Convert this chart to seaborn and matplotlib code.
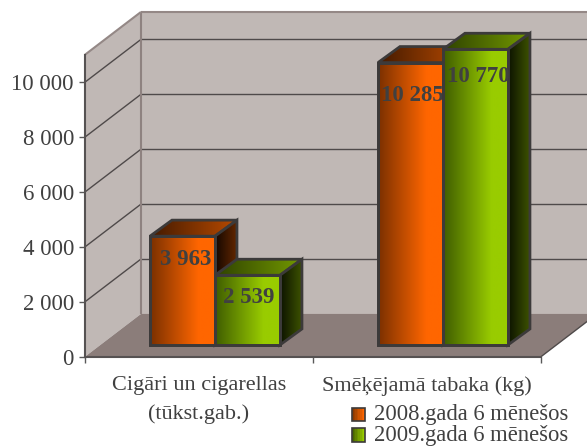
import numpy as np
import pandas as pd
import matplotlib
matplotlib.use('Agg')
import matplotlib.pyplot as plt
import seaborn as sns
from matplotlib.colors import LinearSegmentedColormap
from matplotlib.legend_handler import HandlerBase
from matplotlib.patches import Patch, Polygon, Rectangle

categories = ['Cigāri un cigarellas\n(tūkst.gab.)', 'Smēķējamā tabaka (kg)']
series_names = ['2008.gada 6 mēnešos', '2009.gada 6 mēnešos']
values_2008 = [3963, 10285]
values_2009 = [2539, 10770]
labels_2008 = ['3 963', '10 285']
labels_2009 = ['2 539', '10 770']
y_ticks = [0, 2000, 4000, 6000, 8000, 10000]
y_tick_labels = ['0', '2 000', '4 000', '6 000', '8 000', '10 000']

TEXT = '#404040'
WALL = '#c0b8b5'
FLOOR = '#8b7d7a'
EDGE = '#3c3a3a'

# 3d depth of the box and of the bars, in data units
WALL_DX, WALL_DY = 0.2456, 1558
BAR_SHIFT_X, BAR_SHIFT_Y = 0.07, 427
BAR_DX, BAR_DY = 0.0965, 584

styles = {
    0: dict(front=[(0, '#7a3000'), (0.75, '#ff6600'), (1, '#ff6600')], top=['#431a00', '#b84a00'], side=['#140700', '#662800'], swatch=['#8a3a00', '#ff6600']),
    1: dict(front=[(0, '#3f5c00'), (0.75, '#99cc00'), (1, '#99cc00')], top=['#2f4200', '#739900'], side=['#0c1200', '#3f5500'], swatch=['#4a6600', '#99cc00']),
}

sns.set_theme(style='white')
plt.rcParams['font.family'] = ['Liberation Serif', 'DejaVu Serif']

df = pd.DataFrame({
    'cat': categories * 2,
    'year': [series_names[0]] * 2 + [series_names[1]] * 2,
    'value': values_2008 + values_2009,
})

fig = plt.figure(figsize=(5.87, 4.46), dpi=100, facecolor='white')
ax = fig.add_axes([85 / 587, (446 - 356.7) / 446, 456 / 587, 302 / 446])
ax.patch.set_visible(False)

sns.barplot(data=df, x='cat', y='value', hue='year', width=0.57, gap=0, legend=False, ax=ax, zorder=5)

xlim = (-0.5, 1.5)
ylim = (0, 11000)


def poly(pts, color, z=1, edge='none', lw=0):
    ax.add_patch(Polygon(pts, closed=True, facecolor=color, edgecolor=edge, linewidth=lw, clip_on=False, zorder=z))


def line(xs, ys, color, lw, z=2):
    ax.plot(xs, ys, color=color, lw=lw, clip_on=False, zorder=z, solid_capstyle='butt')


def gradient_face(pts, colors, z):
    xs = [p[0] for p in pts]
    ys = [p[1] for p in pts]
    cmap = LinearSegmentedColormap.from_list('face', colors)
    im = ax.imshow(np.linspace(0, 1, 256).reshape(1, -1), cmap=cmap, aspect='auto', zorder=z,
                   extent=(min(xs), max(xs), min(ys), max(ys)))
    im.set_clip_path(Polygon(pts, closed=True, transform=ax.transData))
    im.set_clip_box(fig.bbox)
    poly(pts, 'none', z=z + 0.01, edge=EDGE, lw=2)


# walls and floor
x0, x1 = xlim
top = ylim[1]
poly([(x0 + WALL_DX, WALL_DY), (x1 + WALL_DX, WALL_DY), (x1 + WALL_DX, top + WALL_DY), (x0 + WALL_DX, top + WALL_DY)], WALL)
poly([(x0, 0), (x0 + WALL_DX, WALL_DY), (x0 + WALL_DX, top + WALL_DY), (x0, top)], WALL)
poly([(x0, 0), (x1, 0), (x1 + WALL_DX, WALL_DY), (x0 + WALL_DX, WALL_DY)], FLOOR)

for v in y_ticks[1:]:
    line([x0, x0 + WALL_DX], [v, v + WALL_DY], '#4f4a4a', 1.0)
    line([x0 + WALL_DX, x1 + WALL_DX], [v + WALL_DY, v + WALL_DY], '#4f4a4a', 1.0)
line([x0 + WALL_DX, x1 + WALL_DX], [top + WALL_DY] * 2, '#948886', 1.5)
line([x0 + WALL_DX] * 2, [WALL_DY, top + WALL_DY], '#8e8280', 1.5)
line([x0, x0 + WALL_DX], [top, top + WALL_DY], '#948886', 1.5)
line([x1, x1 + WALL_DX], [0, WALL_DY], '#4f4a4a', 1.0)

# bars: seaborn places them, then they get pushed into the box and given side faces
label_sets = [labels_2008, labels_2009]
label_offsets = [[(3, -23), (2, -33)], [(1, -22), (3, -27)]]
for s, container in enumerate(ax.containers):
    st = styles[s]
    for b, bar in enumerate(container):
        x = bar.get_x() + BAR_SHIFT_X
        w = bar.get_width()
        h = bar.get_height()
        y = BAR_SHIFT_Y
        bar.set_x(x)
        bar.set_y(y)
        bar.set_facecolor('none')
        bar.set_edgecolor(EDGE)
        bar.set_linewidth(2)
        bar.set_clip_on(False)
        z = 5 + s * 2
        bar.set_zorder(z + 0.5)
        gradient_face([(x, y), (x + w, y), (x + w, y + h), (x, y + h)], st['front'], z + 0.2)
        gradient_face([(x, y + h), (x + w, y + h), (x + w + BAR_DX, y + h + BAR_DY), (x + BAR_DX, y + h + BAR_DY)], st['top'], z)
        gradient_face([(x + w, y), (x + w + BAR_DX, y + BAR_DY), (x + w + BAR_DX, y + h + BAR_DY), (x + w, y + h)], st['side'], z + 0.1)
        dx, dy = label_offsets[s][b]
        ax.annotate(label_sets[s][b], (x + w / 2, y + h), xytext=(dx * 0.72, dy * 0.72), textcoords='offset points',
                    ha='center', va='center', fontsize=16.5, fontweight='bold', color=TEXT,
                    annotation_clip=False, zorder=z + 0.9)

ax.set_xlim(*xlim)
ax.set_ylim(*ylim)
ax.set_xlabel('')
ax.set_ylabel('')
ax.set_yticks(y_ticks)
ax.set_yticklabels(y_tick_labels, fontsize=16.5, color=TEXT)
ax.tick_params(axis='y', length=4.5, width=1, color='#595959', pad=3.5, left=True)
ax.set_xticks([-0.5, 0.5, 1.5])
ax.set_xticklabels([])
ax.tick_params(axis='x', which='major', length=4.5, width=1, color='#595959', bottom=True)
ax.set_xticks([0, 1], minor=True)
ax.set_xticklabels(categories, minor=True, fontsize=16, color=TEXT, linespacing=1.62, va='top')
ax.tick_params(axis='x', which='minor', length=0, pad=14)
sns.despine(ax=ax, top=True, right=True)
for side in ['left', 'bottom']:
    ax.spines[side].set_color('#565252')
    ax.spines[side].set_linewidth(1.5)
    ax.spines[side].set_zorder(3)


class GradientSwatch(HandlerBase):
    def create_artists(self, legend, orig_handle, xdescent, ydescent, width, height, fontsize, trans):
        cmap = LinearSegmentedColormap.from_list('sw', orig_handle.swatch_colors)
        n = 8
        out = []
        for i in range(n):
            out.append(Rectangle((xdescent + width * i / n, ydescent), width / n, height,
                                 facecolor=cmap(i / (n - 1)), edgecolor='none', transform=trans))
        out.append(Rectangle((xdescent, ydescent), width, height, facecolor='none', edgecolor=EDGE, linewidth=1.2, transform=trans))
        return out


handles = []
for s, name in enumerate(series_names):
    h = Patch(label=name)
    h.swatch_colors = styles[s]['swatch']
    handles.append(h)

fig.legend(handles=handles, loc='lower left', bbox_to_anchor=(352 / 587, 0), frameon=False,
           fontsize=16.3, labelspacing=-0.02, handlelength=0.57, handleheight=0.57, handletextpad=0.4,
           borderpad=0, borderaxespad=0, labelcolor=TEXT,
           handler_map={Patch: GradientSwatch()})

fig.savefig('out.png', dpi=100)
